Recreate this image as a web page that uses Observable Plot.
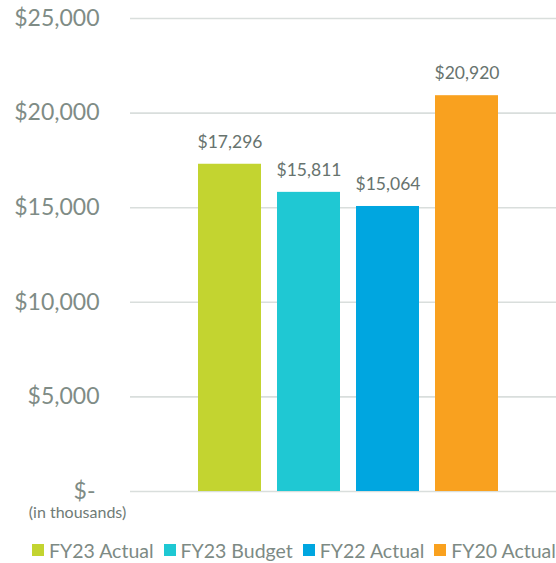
<!DOCTYPE html>
<html>
<head>
<meta charset="utf-8">
<script src="https://cdn.jsdelivr.net/npm/d3@7"></script>
<script src="https://cdn.jsdelivr.net/npm/@observablehq/plot@0.6"></script>
<style>
  body { margin: 0; background: #fff; font-family: Lato, "Open Sans", sans-serif; }
  #chart svg { display: block; }
  #legend { display: flex; align-items: center; height: 24px; margin-top: 10px; padding-left: 32px; color: #7d8a84; font-size: 19.5px; white-space: nowrap; }
  #legend .item { display: flex; align-items: center; margin-right: 10px; }
  #legend .sw { width: 12px; height: 12px; margin-right: 5px; }
</style>
</head>
<body>
<div id="chart"></div>
<div id="legend"></div>
<script>
const categories = ["FY23 Actual", "FY23 Budget", "FY22 Actual", "FY20 Actual"];
const values = [17296, 15811, 15064, 20920];
const colors = ["#c3d430", "#1fc8d3", "#00a6e0", "#f9a11f"];
const yTicks = [0, 5000, 10000, 15000, 20000, 25000];

const data = categories.map((c, i) => ({ category: c, value: values[i] }));
const fmt = v => v === 0 ? "$-" : "$" + d3.format(",")(v);

const plot = Plot.plot({
  width: 556,
  height: 528,
  marginTop: 18,
  marginBottom: 37,
  marginLeft: 130,
  marginRight: 0,
  style: { fontFamily: "Lato, 'Open Sans', sans-serif", background: "#fff" },
  x: { domain: categories, padding: 0.2, insetLeft: 52, insetRight: 42, axis: null },
  y: { domain: [0, 25000], axis: null },
  color: { domain: categories, range: colors },
  marks: [
    Plot.ruleY(yTicks, { stroke: "#d9dedc", strokeWidth: 1.6 }),
    Plot.text(yTicks.filter(d => d > 0), { frameAnchor: "left", y: d => d, dx: -31, x: null, text: fmt, textAnchor: "end", fontSize: 23, fill: "#7f8c86" }),
    Plot.text([0], { frameAnchor: "left", y: d => d, dx: -35, x: null, text: fmt, textAnchor: "end", lineAnchor: "middle", fontSize: 23, fill: "#7f8c86" }),
    Plot.barY(data, { x: "category", y: "value", fill: "category" }),
    Plot.text(data, { x: "category", y: "value", text: d => fmt(d.value), dy: -22, fontSize: 17.5, fill: "#67736e" }),
    Plot.text(["(in thousands)"], { frameAnchor: "bottom-left", lineAnchor: "middle", dx: -53, dy: 21, text: d => d, fontSize: 16, fill: "#6f7b76", textAnchor: "middle" })
  ]
});
document.getElementById("chart").appendChild(plot);

const legend = document.getElementById("legend");
categories.forEach((c, i) => {
  const item = document.createElement("div");
  item.className = "item";
  item.innerHTML = `<span class="sw" style="background:${colors[i]}"></span><span>${c}</span>`;
  legend.appendChild(item);
});
</script>
</body>
</html>
